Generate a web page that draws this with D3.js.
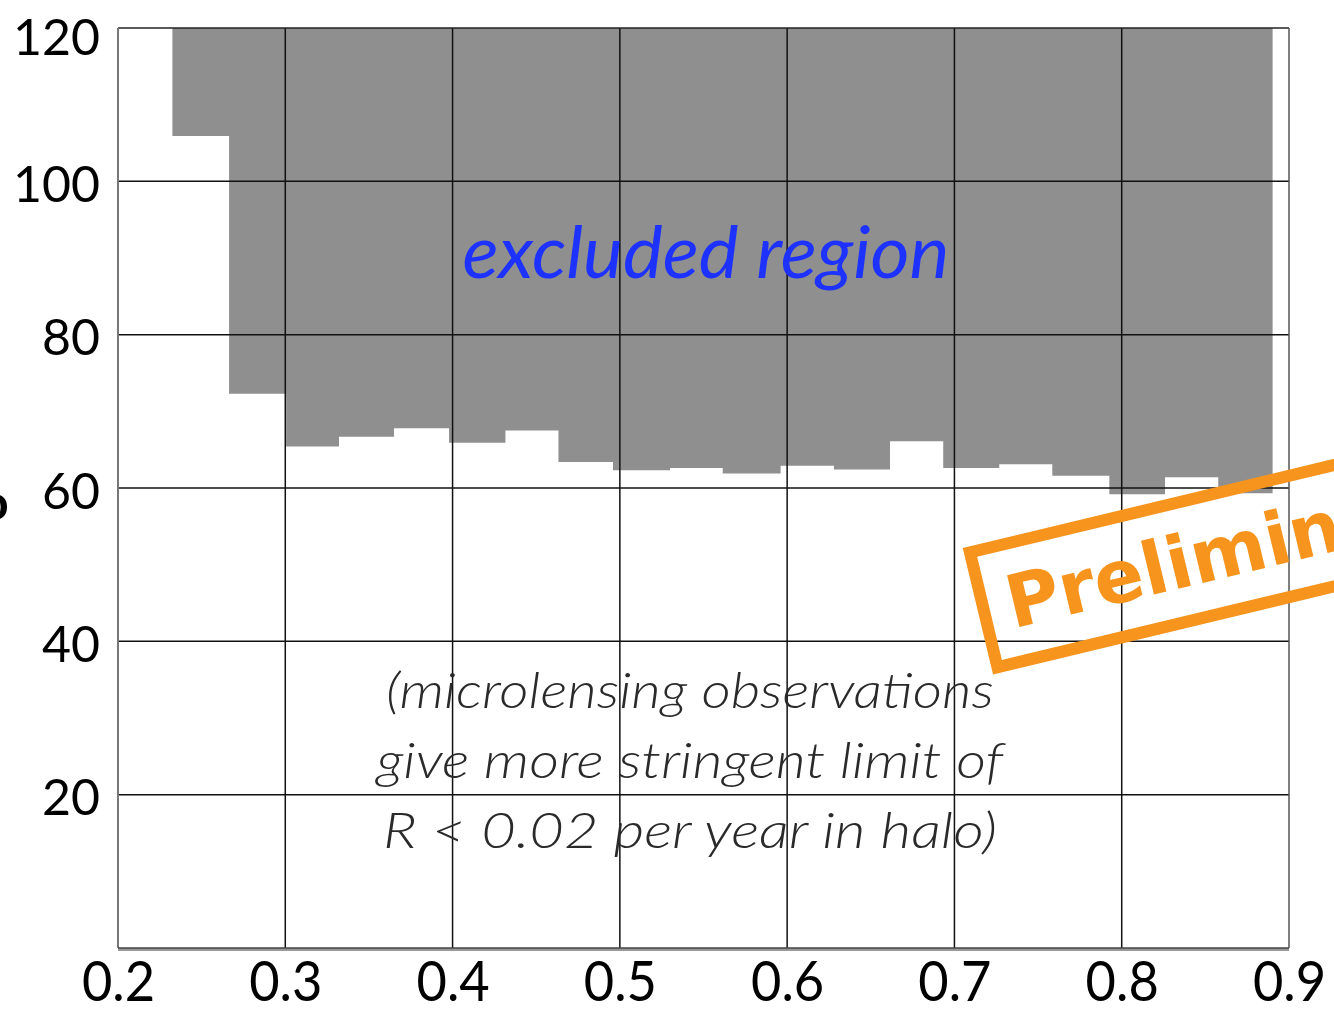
<!DOCTYPE html>
<html>
<head>
<meta charset="utf-8">
<script src="https://cdn.jsdelivr.net/npm/d3@7"></script>
<style>
  html, body { margin: 0; padding: 0; background: #fff; }
  svg { display: block; }
</style>
</head>
<body>
<div id="chart"></div>
<script>
// bin edges (x) and the lower edge of the excluded region in each bin (y)
const binEdges = [0.2325, 0.2664, 0.3005, 0.3321, 0.3650, 0.3979, 0.4316, 0.4633, 0.4959, 0.5300,
  0.5615, 0.5961, 0.6280, 0.6615, 0.6933, 0.7268, 0.7585, 0.7926, 0.8259, 0.8577, 0.8902];
const limitValues = [105.9, 72.3, 65.4, 66.7, 67.8, 65.9, 67.5, 63.4, 62.3, 62.6,
  61.9, 62.9, 62.4, 66.1, 62.6, 63.1, 61.6, 59.2, 61.4, 59.3];
const xTicks = [0.2, 0.3, 0.4, 0.5, 0.6, 0.7, 0.8, 0.9];
const yTicks = [20, 40, 60, 80, 100, 120];
const regionLabel = 'excluded region';
const noteLines = ['(microlensing observations', 'give more stringent limit of', 'R < 0.02 per year in halo)'];
const stampText = 'Preliminary';

const width = 1334, height = 1014;
const margin = {top: 28, right: 45, bottom: 66, left: 118};
const plotW = width - margin.left - margin.right;
const plotH = height - margin.top - margin.bottom;

const svg = d3.select('#chart').append('svg')
    .attr('width', width)
    .attr('height', height);

const g = svg.append('g')
    .attr('transform', 'translate(' + margin.left + ',' + margin.top + ')');

const scaleX = d3.scaleLinear().domain([0.2, 0.9]).range([0, plotW]);
const scaleY = d3.scaleLinear().domain([0, 120]).range([plotH, 0]);

// excluded region: stepped area from each bin's limit up to the top of the plot
const bins = limitValues.map((v, i) => ({x0: binEdges[i], x1: binEdges[i + 1], v: v}));
const stepPts = [];
bins.forEach((b) => { stepPts.push([b.x0, b.v]); stepPts.push([b.x1, b.v]); });
const area = d3.area()
    .x((d) => scaleX(d[0]))
    .y0(scaleY(120))
    .y1((d) => scaleY(d[1]));
g.append('path')
    .datum(stepPts)
    .attr('fill', '#8f8f8f')
    .attr('d', area);

// grid
g.append('g')
    .selectAll('line')
    .data(xTicks.slice(1, -1))
    .enter().append('line')
    .attr('x1', (d) => scaleX(d)).attr('x2', (d) => scaleX(d))
    .attr('y1', 0).attr('y2', plotH)
    .attr('stroke', '#111').attr('stroke-width', 1.5);
g.append('g')
    .selectAll('line')
    .data(yTicks.slice(0, -1))
    .enter().append('line')
    .attr('x1', 0).attr('x2', plotW)
    .attr('y1', (d) => scaleY(d)).attr('y2', (d) => scaleY(d))
    .attr('stroke', '#111').attr('stroke-width', 1.5);

// frame
g.append('line').attr('x1', 0).attr('x2', plotW).attr('y1', 0).attr('y2', 0)
    .attr('stroke', '#222').attr('stroke-width', 1.5);
g.append('line').attr('x1', plotW).attr('x2', plotW).attr('y1', 0).attr('y2', plotH)
    .attr('stroke', '#555').attr('stroke-width', 1.5);
g.append('line').attr('x1', 0).attr('x2', 0).attr('y1', 0).attr('y2', plotH)
    .attr('stroke', '#777').attr('stroke-width', 2);
g.append('line').attr('x1', 0).attr('x2', plotW).attr('y1', plotH + 1.5).attr('y2', plotH + 1.5)
    .attr('stroke', '#999').attr('stroke-width', 3);
g.append('line').attr('x1', 0).attr('x2', plotW).attr('y1', plotH).attr('y2', plotH)
    .attr('stroke', '#444').attr('stroke-width', 1.5);

// axes (labels only, lines drawn above)
const xAxis = g.append('g')
    .attr('transform', 'translate(0,' + plotH + ')')
    .call(d3.axisBottom(scaleX).tickValues(xTicks).tickSize(0).tickPadding(0).tickFormat(d3.format('.1f')));
xAxis.select('.domain').remove();
xAxis.selectAll('text')
    .attr('font-family', 'Lato, sans-serif')
    .attr('font-size', 57)
    .attr('fill', '#000')
    .attr('text-anchor', 'middle')
    .attr('dy', 0)
    .attr('y', 0)
    .attr('transform', 'translate(0,53) scale(0.92,1)');

const yAxis = g.append('g')
    .call(d3.axisLeft(scaleY).tickValues(yTicks).tickSize(0).tickPadding(18));
yAxis.select('.domain').remove();
yAxis.selectAll('text')
    .attr('font-family', 'Lato, sans-serif')
    .attr('font-size', 50)
    .attr('fill', '#000')
    .attr('dy', (d) => d === 120 ? '0.52em' : '0.40em');

// cut-off axis title glyph at the left edge
svg.append('text')
    .attr('x', -20).attr('y', 520)
    .attr('font-family', 'Lato, sans-serif')
    .attr('font-size', 50)
    .attr('font-weight', 700)
    .attr('fill', '#000')
    .text('o');

// region label
g.append('text')
    .attr('x', 706 - margin.left).attr('y', 278 - margin.top)
    .attr('text-anchor', 'middle')
    .attr('font-family', 'Lato, sans-serif')
    .attr('font-style', 'italic')
    .attr('font-size', 72)
    .attr('fill', '#1e32ff')
    .attr('textLength', 487)
    .attr('lengthAdjust', 'spacingAndGlyphs')
    .text(regionLabel);

// note
const noteWidths = [608, 627, 614];
g.append('g')
    .selectAll('text')
    .data(noteLines)
    .enter().append('text')
    .attr('x', 690 - margin.left)
    .attr('y', (d, i) => 708 - margin.top + i * 70)
    .attr('text-anchor', 'middle')
    .attr('font-family', 'Lato, sans-serif')
    .attr('font-style', 'italic')
    .attr('font-weight', 300)
    .attr('font-size', 50)
    .attr('fill', '#2a2a2a')
    .attr('textLength', (d, i) => noteWidths[i])
    .attr('lengthAdjust', 'spacingAndGlyphs')
    .text((d) => d);

// preliminary stamp
const stamp = svg.append('g')
    .attr('transform', 'translate(962.7,548) rotate(-13.5)');
stamp.append('rect')
    .attr('x', 6).attr('y', 6)
    .attr('width', 720).attr('height', 118)
    .attr('fill', 'none')
    .attr('stroke', '#f7941d')
    .attr('stroke-width', 12);
stamp.append('text')
    .attr('x', 30).attr('y', 90)
    .attr('font-family', '"DejaVu Sans", sans-serif')
    .attr('font-weight', 700)
    .attr('font-size', 73)
    .attr('fill', '#f7941d')
    .text(stampText);
</script>
</body>
</html>
